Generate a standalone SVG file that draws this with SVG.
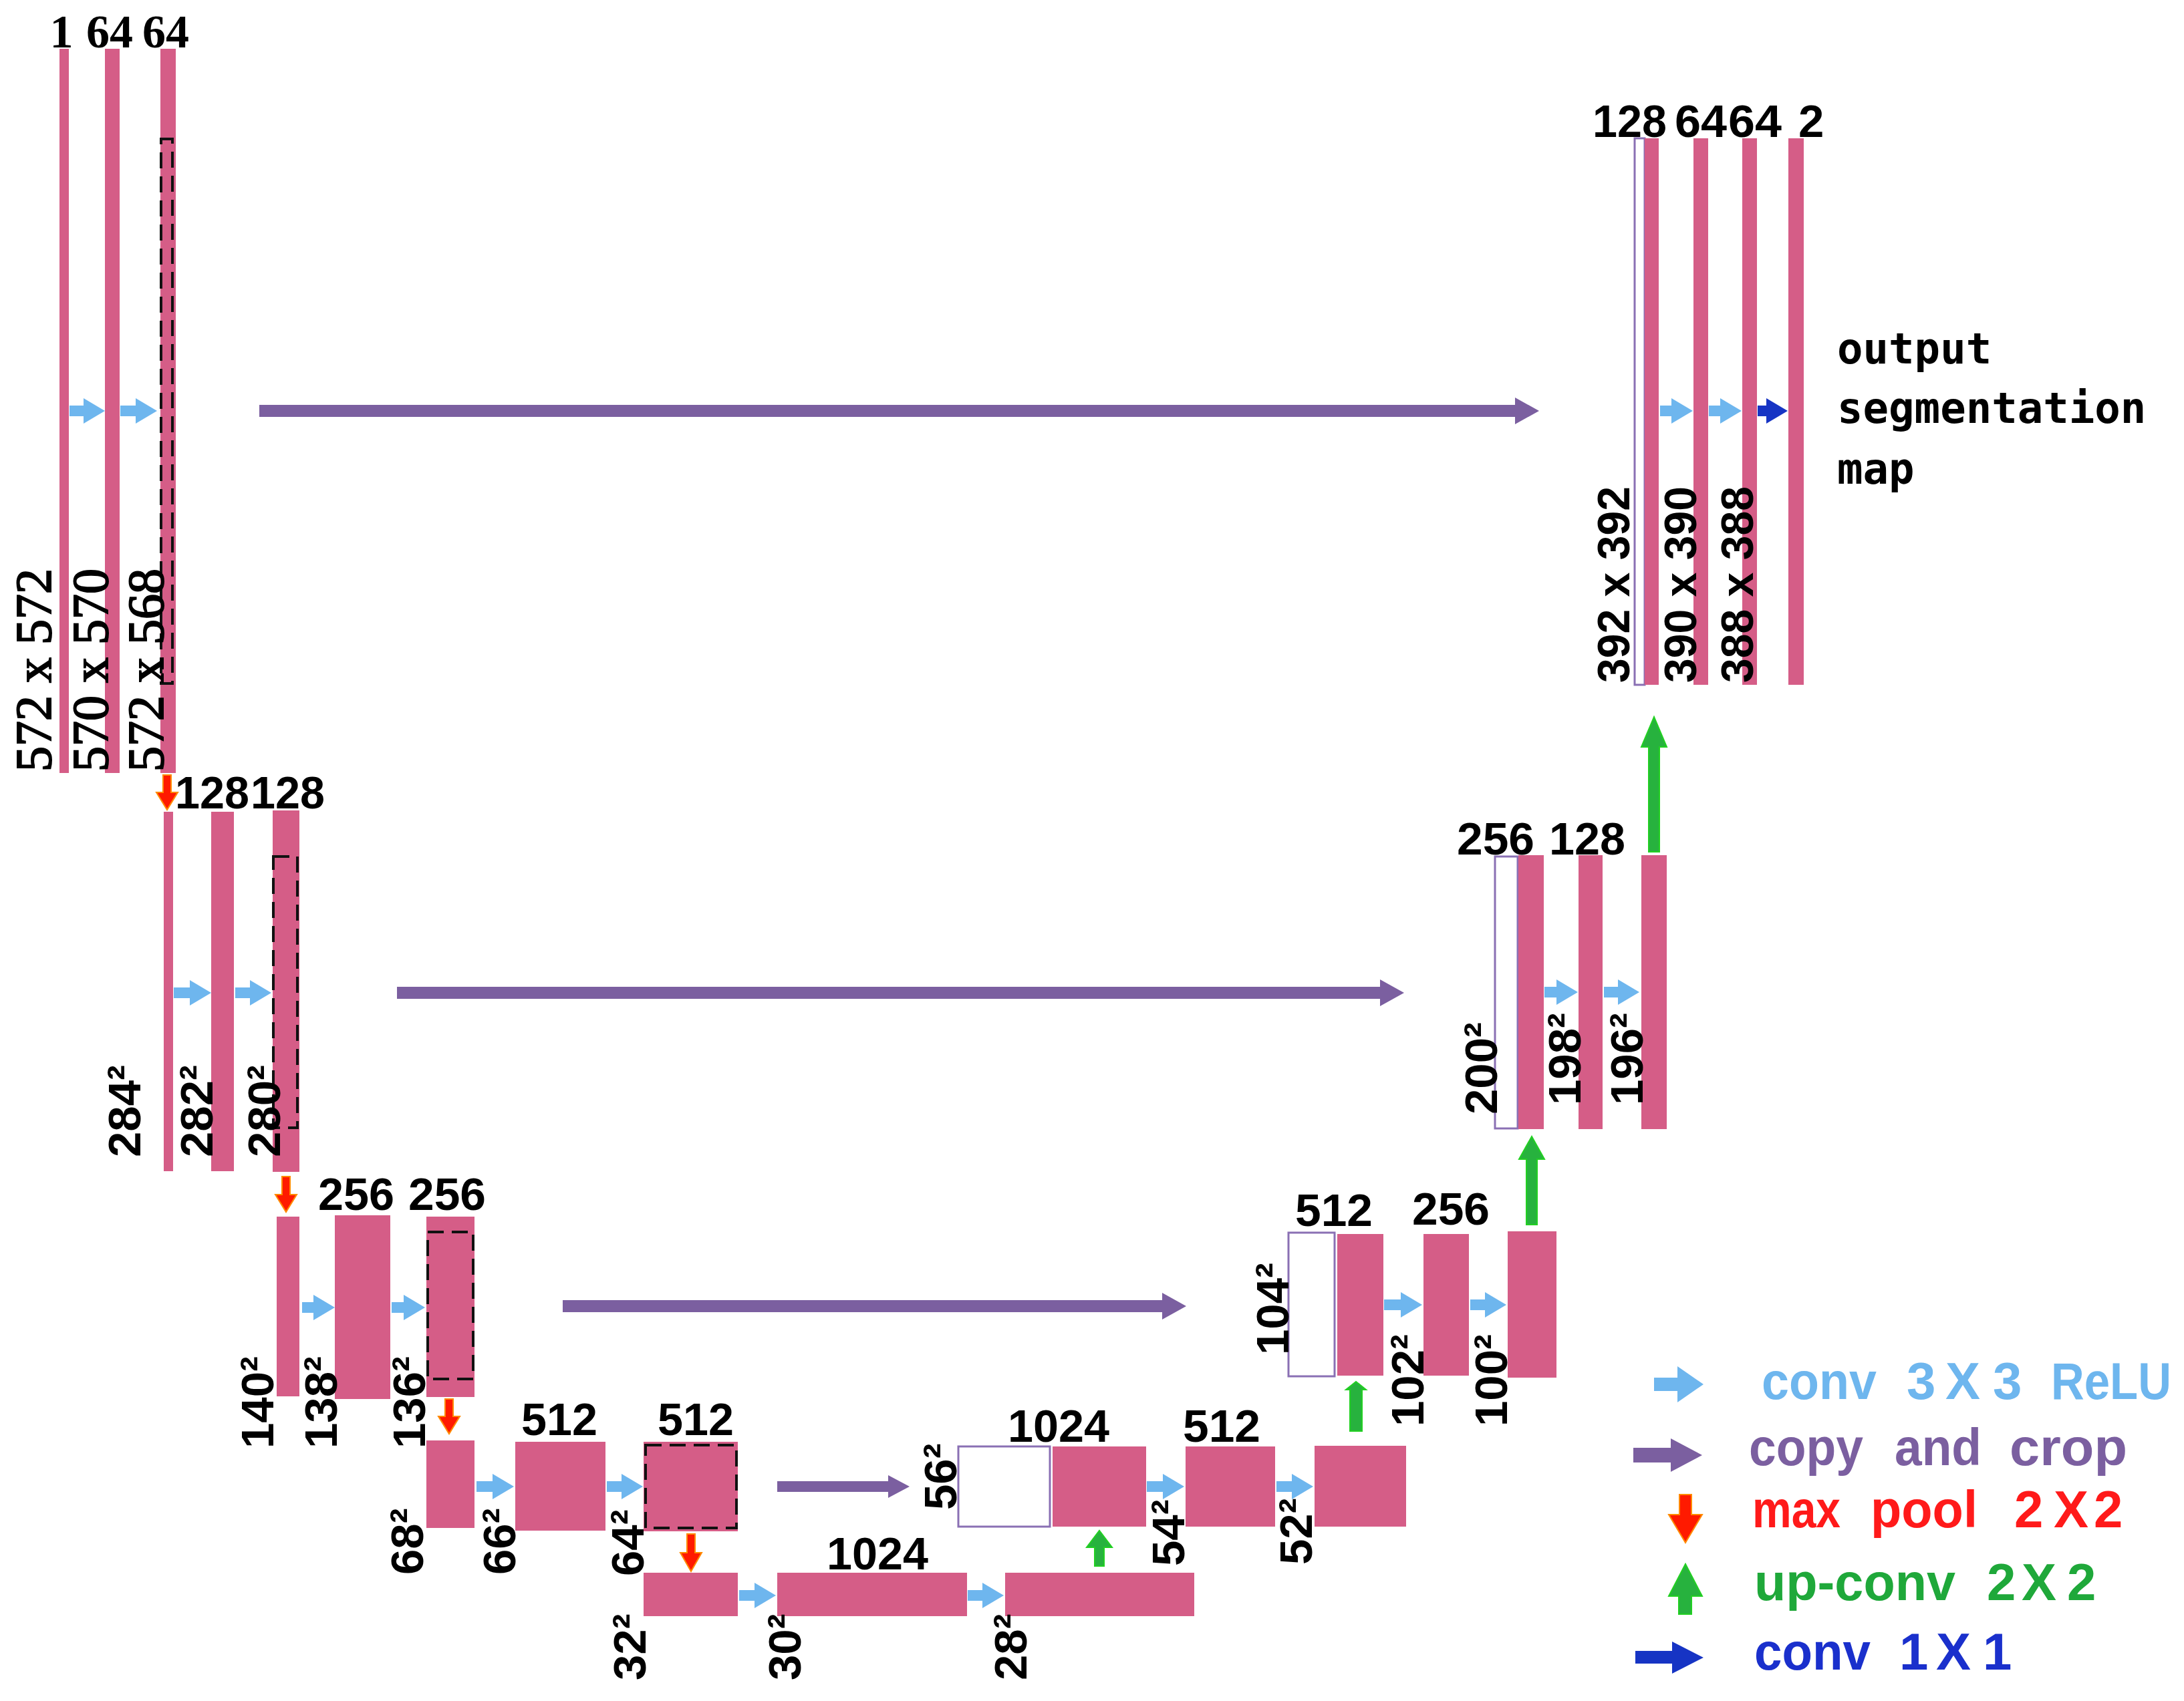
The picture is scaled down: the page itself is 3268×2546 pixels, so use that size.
<svg xmlns="http://www.w3.org/2000/svg" width="3268" height="2546" viewBox="0 0 3268 2546">
<style>
.bar{fill:#d55d87}
.wbox{fill:#fff;stroke:#8a70b4;stroke-width:3}
.dash{fill:none;stroke:#111;stroke-width:4;stroke-dasharray:24 12}
.t{font-family:"Liberation Sans",Arial,sans-serif;font-weight:bold;font-size:69px;fill:#000}
.ts{font-family:"Liberation Serif","Times New Roman",serif;font-size:76px;fill:#000;stroke:#000;stroke-width:2}
.th{font-family:"Liberation Serif","Times New Roman",serif;font-weight:bold;font-size:70px;fill:#000}
.mono{font-family:"DejaVu Sans Mono","Liberation Mono",monospace;font-weight:bold;font-size:64px;fill:#000}
.lg{font-family:"Liberation Sans",Arial,sans-serif;font-weight:bold;font-size:78px}
.conv{fill:#6eb6ee}
.copy{fill:#7b5fa0}
.pool{fill:#ff1a00;stroke:#ff8a00;stroke-width:2}
.up{fill:#27b23e;stroke:#22d022;stroke-width:2}
.c11{fill:#1634c4}
.red{fill:#ff1a1a}
.grn{fill:#1fa83a}
.blu{fill:#1a30cc}
</style>
<rect width="3268" height="2546" fill="#fff"/>

<!-- Level 1 -->
<g id="n-l1">
<rect class="bar" x="89" y="73" width="14" height="1084"/>
<rect class="bar" x="157" y="73" width="22" height="1084"/>
<rect class="bar" x="240" y="73" width="23" height="1084"/>
<rect class="dash" x="241" y="208" width="17" height="815"/>
<text class="th" x="92" y="71" text-anchor="middle">1</text>
<text class="th" x="164" y="71" text-anchor="middle">64</text>
<text class="th" x="248" y="71" text-anchor="middle">64</text>
<text class="ts" x="76" y="1155" transform="rotate(-90 76 1155)">572 x 572</text>
<text class="ts" x="161" y="1155" transform="rotate(-90 161 1155)">570 x 570</text>
<text class="ts" x="244" y="1155" transform="rotate(-90 244 1155)">572 x 568</text>
</g>

<!-- Level 2 -->
<g id="n-l2">
<rect class="bar" x="245" y="1215" width="14" height="538"/>
<rect class="bar" x="316" y="1215" width="34" height="538"/>
<rect class="bar" x="408" y="1213" width="40" height="541"/>
<rect class="dash" x="409" y="1282" width="36" height="406"/>
<text class="t" x="262" y="1210" textLength="111" lengthAdjust="spacingAndGlyphs">128</text>
<text class="t" x="375" y="1210" textLength="111" lengthAdjust="spacingAndGlyphs">128</text>
<text class="t" x="210" y="1732" transform="rotate(-90 210 1732)">284²</text>
<text class="t" x="318" y="1732" transform="rotate(-90 318 1732)">282²</text>
<text class="t" x="419" y="1732" transform="rotate(-90 419 1732)">280²</text>
</g>

<!-- Level 3 -->
<g id="n-l3">
<rect class="bar" x="414" y="1821" width="34" height="269"/>
<rect class="bar" x="501" y="1819" width="83" height="275"/>
<rect class="bar" x="638" y="1821" width="72" height="270"/>
<rect class="dash" x="640" y="1844" width="68" height="220"/>
<text class="t" x="476" y="1811" textLength="114" lengthAdjust="spacingAndGlyphs">256</text>
<text class="t" x="611" y="1811" textLength="116" lengthAdjust="spacingAndGlyphs">256</text>
<text class="t" x="409" y="2168" transform="rotate(-90 409 2168)">140²</text>
<text class="t" x="504" y="2168" transform="rotate(-90 504 2168)">138²</text>
<text class="t" x="636" y="2168" transform="rotate(-90 636 2168)">136²</text>
</g>

<!-- Level 4 -->
<g id="n-l4">
<rect class="bar" x="638" y="2156" width="72" height="131"/>
<rect class="bar" x="771" y="2158" width="135" height="133"/>
<rect class="bar" x="963" y="2158" width="141" height="134"/>
<rect class="dash" x="966" y="2163" width="136" height="124"/>
<text class="t" x="780" y="2148" textLength="114" lengthAdjust="spacingAndGlyphs">512</text>
<text class="t" x="984" y="2148" textLength="114" lengthAdjust="spacingAndGlyphs">512</text>
<text class="t" x="633" y="2357" transform="rotate(-90 633 2357)">68²</text>
<text class="t" x="771" y="2357" transform="rotate(-90 771 2357)">66²</text>
<text class="t" x="963" y="2359" transform="rotate(-90 963 2359)">64²</text>
</g>

<!-- Level 5 (bottom) -->
<g id="n-l5">
<rect class="bar" x="963" y="2354" width="141" height="65"/>
<rect class="bar" x="1163" y="2354" width="284" height="65"/>
<rect class="bar" x="1504" y="2354" width="283" height="65"/>
<text class="t" x="1237" y="2349" textLength="152" lengthAdjust="spacingAndGlyphs">1024</text>
<text class="t" x="966" y="2515" transform="rotate(-90 966 2515)">32²</text>
<text class="t" x="1198" y="2515" transform="rotate(-90 1198 2515)">30²</text>
<text class="t" x="1536" y="2515" transform="rotate(-90 1536 2515)">28²</text>
</g>

<!-- Level 4 up -->
<g id="n-u4">
<rect class="wbox" x="1434" y="2165" width="137" height="120"/>
<rect class="bar" x="1575" y="2165" width="140" height="120"/>
<rect class="bar" x="1774" y="2165" width="134" height="120"/>
<rect class="bar" x="1967" y="2164" width="137" height="121"/>
<text class="t" x="1508" y="2158" textLength="152" lengthAdjust="spacingAndGlyphs">1024</text>
<text class="t" x="1770" y="2158" textLength="116" lengthAdjust="spacingAndGlyphs">512</text>
<text class="t" x="1431" y="2260" transform="rotate(-90 1431 2260)">56²</text>
<text class="t" x="1772" y="2344" transform="rotate(-90 1772 2344)">54²</text>
<text class="t" x="1963" y="2342" transform="rotate(-90 1963 2342)">52²</text>
</g>

<!-- Level 3 up -->
<g id="n-u3">
<rect class="wbox" x="1928" y="1845" width="69" height="215"/>
<rect class="bar" x="2001" y="1847" width="69" height="212"/>
<rect class="bar" x="2130" y="1847" width="68" height="212"/>
<rect class="bar" x="2256" y="1843" width="73" height="219"/>
<text class="t" x="1938" y="1835" textLength="116" lengthAdjust="spacingAndGlyphs">512</text>
<text class="t" x="2113" y="1833" textLength="116" lengthAdjust="spacingAndGlyphs">256</text>
<text class="t" x="1928" y="2028" transform="rotate(-90 1928 2028)">104²</text>
<text class="t" x="2130" y="2135" transform="rotate(-90 2130 2135)">102²</text>
<text class="t" x="2255" y="2135" transform="rotate(-90 2255 2135)">100²</text>
</g>

<!-- Level 2 up -->
<g id="n-u2">
<rect class="wbox" x="2237" y="1282" width="34" height="407"/>
<rect class="bar" x="2272" y="1280" width="38" height="410"/>
<rect class="bar" x="2362" y="1280" width="36" height="410"/>
<rect class="bar" x="2456" y="1280" width="38" height="410"/>
<text class="t" x="2180" y="1279" textLength="116" lengthAdjust="spacingAndGlyphs">256</text>
<text class="t" x="2318" y="1279" textLength="114" lengthAdjust="spacingAndGlyphs">128</text>
<text class="t" x="2240" y="1668" transform="rotate(-90 2240 1668)">200²</text>
<text class="t" x="2365" y="1654" transform="rotate(-90 2365 1654)">198²</text>
<text class="t" x="2458" y="1654" transform="rotate(-90 2458 1654)">196²</text>
</g>

<!-- Level 1 up -->
<g id="n-u1">
<rect class="wbox" x="2446" y="207" width="15" height="818"/>
<rect class="bar" x="2461" y="207" width="21" height="818"/>
<rect class="bar" x="2534" y="207" width="22" height="818"/>
<rect class="bar" x="2607" y="207" width="22" height="818"/>
<rect class="bar" x="2676" y="207" width="23" height="818"/>
<text class="t" x="2383" y="205" textLength="111" lengthAdjust="spacingAndGlyphs">128</text>
<text class="t" x="2506" y="205" textLength="78" lengthAdjust="spacingAndGlyphs">64</text>
<text class="t" x="2586" y="205" textLength="80" lengthAdjust="spacingAndGlyphs">64</text>
<text class="t" x="2691" y="205">2</text>
<text class="t" x="2438" y="1022" transform="rotate(-90 2438 1022)" textLength="294" lengthAdjust="spacingAndGlyphs">392 x 392</text>
<text class="t" x="2538" y="1022" transform="rotate(-90 2538 1022)" textLength="294" lengthAdjust="spacingAndGlyphs">390 x 390</text>
<text class="t" x="2623" y="1022" transform="rotate(-90 2623 1022)" textLength="294" lengthAdjust="spacingAndGlyphs">388 x 388</text>
</g>

<g id="n-output">
<text class="mono" x="2749" y="544">output</text>
<text class="mono" x="2749" y="633">segmentation</text>
<text class="mono" x="2749" y="724">map</text>
</g>

<!-- Connectors -->
<g id="connectors">
<g class="conv">
<polygon points="104,607 125,607 125,596 157,615 125,634 125,623 104,623"/>
<polygon points="180,607 203,607 203,596 235,615 203,634 203,623 180,623"/>
<polygon points="260,1478 284,1478 284,1467 316,1486 284,1505 284,1494 260,1494"/>
<polygon points="352,1478 374,1478 374,1467 406,1486 374,1505 374,1494 352,1494"/>
<polygon points="452,1949 469,1949 469,1938 501,1957 469,1976 469,1965 452,1965"/>
<polygon points="586,1949 604,1949 604,1938 636,1957 604,1976 604,1965 586,1965"/>
<polygon points="713,2217 737,2217 737,2206 769,2225 737,2244 737,2233 713,2233"/>
<polygon points="908,2217 930,2217 930,2206 962,2225 930,2244 930,2233 908,2233"/>
<polygon points="1106,2380 1129,2380 1129,2369 1161,2388 1129,2407 1129,2396 1106,2396"/>
<polygon points="1448,2380 1470,2380 1470,2369 1502,2388 1470,2407 1470,2396 1448,2396"/>
<polygon points="1716,2217 1740,2217 1740,2206 1772,2225 1740,2244 1740,2233 1716,2233"/>
<polygon points="1910,2217 1933,2217 1933,2206 1965,2225 1933,2244 1933,2233 1910,2233"/>
<polygon points="2071,1945 2096,1945 2096,1934 2128,1953 2096,1972 2096,1961 2071,1961"/>
<polygon points="2200,1945 2222,1945 2222,1934 2254,1953 2222,1972 2222,1961 2200,1961"/>
<polygon points="2311,1477 2329,1477 2329,1466 2361,1485 2329,1504 2329,1493 2311,1493"/>
<polygon points="2400,1477 2421,1477 2421,1466 2453,1485 2421,1504 2421,1493 2400,1493"/>
<polygon points="2484,607 2501,607 2501,596 2533,615 2501,634 2501,623 2484,623"/>
<polygon points="2557,607 2574,607 2574,596 2606,615 2574,634 2574,623 2557,623"/>
</g>
<polygon class="c11" points="2630,607 2643,607 2643,596 2675,615 2643,634 2643,623 2630,623"/>
<g class="copy">
<polygon points="388,606 2267,606 2267,595 2303,615 2267,635 2267,624 388,624"/>
<polygon points="594,1477 2065,1477 2065,1466 2101,1486 2065,1506 2065,1495 594,1495"/>
<polygon points="842,1946 1739,1946 1739,1935 1775,1955 1739,1975 1739,1964 842,1964"/>
<polygon points="1163,2217 1329,2217 1329,2208 1361,2225 1329,2242 1329,2233 1163,2233"/>
</g>
<g class="pool">
<polygon points="244,1160 256,1160 256,1186 266,1186 250,1212 234,1186 244,1186"/>
<polygon points="422,1761 434,1761 434,1788 444,1788 428,1814 412,1788 422,1788"/>
<polygon points="666,2094 678,2094 678,2120 688,2120 672,2146 656,2120 666,2120"/>
<polygon points="1028,2296 1040,2296 1040,2324 1050,2324 1034,2352 1018,2324 1028,2324"/>
</g>
<g class="up">
<polygon points="1638,2344 1638,2316 1626,2316 1645,2291 1664,2316 1652,2316 1652,2344"/>
<polygon points="2020,2142 2020,2080 2014,2080 2029,2068 2044,2080 2038,2080 2038,2142"/>
<polygon points="2284,1833 2284,1735 2273,1735 2292,1701 2311,1735 2300,1735 2300,1833"/>
<polygon points="2467,1275 2467,1118 2456,1118 2475,1073 2494,1118 2483,1118 2483,1275"/>
</g>
</g>

<!-- Legend -->
<g id="legend">
<polygon class="conv" points="2475,2062 2510,2062 2510,2045 2549,2072 2510,2099 2510,2082 2475,2082"/>
<g class="lg conv">
<text x="2636" y="2094" textLength="172" lengthAdjust="spacingAndGlyphs">conv</text>
<text x="2853" y="2094">3</text>
<text x="2911" y="2094">X</text>
<text x="2982" y="2094">3</text>
<text x="3069" y="2094" textLength="180" lengthAdjust="spacingAndGlyphs">ReLU</text>
</g>
<polygon class="copy" points="2444,2167 2500,2167 2500,2153 2547,2178 2500,2203 2500,2189 2444,2189"/>
<g class="lg copy">
<text x="2617" y="2193" textLength="171" lengthAdjust="spacingAndGlyphs">copy</text>
<text x="2835" y="2193" textLength="130" lengthAdjust="spacingAndGlyphs">and</text>
<text x="3007" y="2193" textLength="176" lengthAdjust="spacingAndGlyphs">crop</text>
</g>
<polygon class="pool" points="2513,2237 2531,2237 2531,2267 2547,2267 2522,2309 2497,2267 2513,2267"/>
<g class="lg red">
<text x="2622" y="2286" textLength="132" lengthAdjust="spacingAndGlyphs">max</text>
<text x="2799" y="2286" textLength="160" lengthAdjust="spacingAndGlyphs">pool</text>
<text x="3014" y="2286">2</text>
<text x="3073" y="2286">X</text>
<text x="3133" y="2286">2</text>
</g>
<polygon class="up" points="2512,2416 2512,2389 2497,2389 2522,2341 2547,2389 2531,2389 2531,2416"/>
<g class="lg grn">
<text x="2625" y="2395" textLength="301" lengthAdjust="spacingAndGlyphs">up-conv</text>
<text x="2973" y="2395">2</text>
<text x="3025" y="2395">X</text>
<text x="3093" y="2395">2</text>
</g>
<polygon class="c11" points="2447,2471 2502,2471 2502,2457 2549,2481 2502,2505 2502,2490 2447,2490"/>
<g class="lg blu">
<text x="2625" y="2499" textLength="174" lengthAdjust="spacingAndGlyphs">conv</text>
<text x="2842" y="2499">1</text>
<text x="2897" y="2499">X</text>
<text x="2967" y="2499">1</text>
</g>
</g>
</svg>
